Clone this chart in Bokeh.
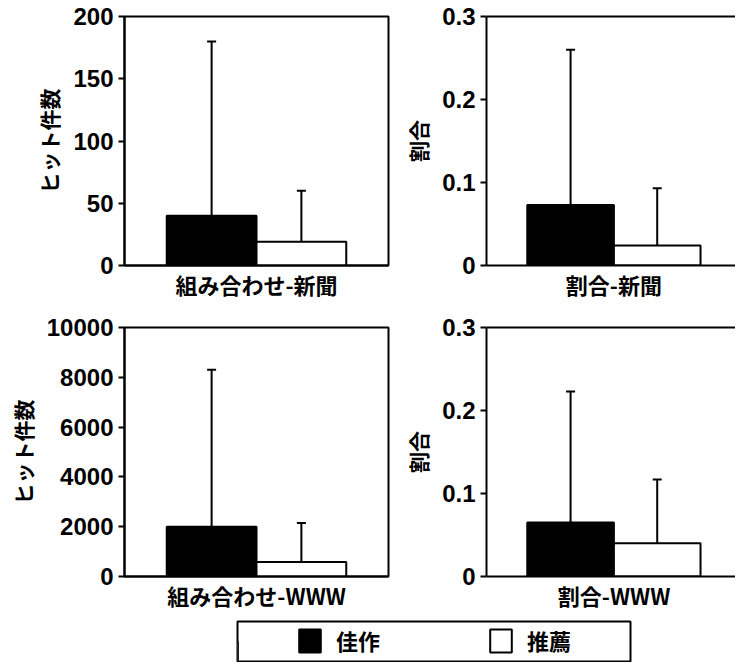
from bokeh.plotting import figure
from bokeh.models import (Range1d, FixedTicker, Whisker, TeeHead, ColumnDataSource,
                          LinearAxis, Legend, LegendItem)
from bokeh.layouts import column, row
from bokeh.embed import file_html
from bokeh.resources import INLINE

# ---------------- data ----------------
series = ["佳作", "推薦"]
colors = ["black", "white"]

categories = ["組み合わせ-新聞", "割合-新聞", "組み合わせ-WWW", "割合-WWW"]
y_titles = ["ヒット件数", "割合", "ヒット件数", "割合"]
y_max = [200, 0.3, 10000, 0.3]
y_ticks = [[0, 50, 100, 150, 200],
           [0, 0.1, 0.2, 0.3],
           [0, 2000, 4000, 6000, 8000, 10000],
           [0, 0.1, 0.2, 0.3]]

# mean values  [佳作, 推薦]
means = [[40, 19],
         [0.073, 0.024],
         [2000, 580],
         [0.065, 0.040]]
# standard deviations (upper error bar length)
sds = [[140, 41],
       [0.187, 0.069],
       [6300, 1570],
       [0.158, 0.077]]

group_center = 0.5
bar_width = 0.34
offsets = [-0.17, 0.17]

TICK_FONT = "Liberation Sans"
CJK_FONT = "Noto Sans CJK JP"


def make_panel(i, width, height, border_left, border_right, border_top, border_bottom,
               x_end, full_frame):
    p = figure(width=width, height=height, output_backend="svg", toolbar_location=None,
               x_range=Range1d(0, x_end), y_range=Range1d(0, y_max[i]),
               min_border_left=border_left, min_border_right=border_right,
               min_border_top=border_top, min_border_bottom=border_bottom)
    p.grid.visible = False
    p.background_fill_color = "white"
    p.border_fill_color = "white"

    xs = [group_center + o for o in offsets]
    src = ColumnDataSource(dict(x=xs, top=means[i],
                                upper=[m + s for m, s in zip(means[i], sds[i])],
                                fill=colors))
    p.vbar(x="x", top="top", width=bar_width, bottom=0, source=src,
           fill_color="fill", line_color="black", line_width=2)
    w = Whisker(base="x", lower="top", upper="upper", source=src,
                line_color="black", line_width=2,
                upper_head=TeeHead(size=9, line_width=2, line_color="black"),
                lower_head=None, level="overlay")
    p.add_layout(w)

    # y axis
    ya = p.left[0]
    ya.ticker = FixedTicker(ticks=y_ticks[i])
    ya.major_label_overrides = {0: "0"}
    ya.minor_tick_line_color = None
    ya.major_tick_in = 0
    ya.major_tick_out = 6
    ya.major_tick_line_width = 2
    ya.axis_line_width = 2
    ya.major_label_standoff = 5
    ya.major_label_text_font = TICK_FONT
    ya.major_label_text_font_style = "bold"
    ya.major_label_text_font_size = "24px"
    ya.major_label_text_color = "black"
    ya.axis_label = y_titles[i]
    ya.axis_label_text_font = CJK_FONT
    ya.axis_label_text_font_style = "bold"
    ya.axis_label_text_font_size = "21px"
    ya.axis_label_standoff = 6
    ya.axis_label_text_color = "black"

    # x axis (category label)
    xa = p.below[0]
    xa.ticker = FixedTicker(ticks=[group_center])
    xa.major_label_overrides = {group_center: categories[i]}
    xa.major_tick_line_color = None
    xa.minor_tick_line_color = None
    xa.major_tick_out = 0
    xa.major_tick_in = 0
    xa.axis_line_width = 2
    xa.major_label_standoff = 2
    xa.major_label_text_font = CJK_FONT
    xa.major_label_text_font_style = "bold"
    xa.major_label_text_font_size = "22px"
    xa.major_label_text_color = "black"

    if full_frame:
        p.outline_line_color = "black"
        p.outline_line_width = 2
        p.outline_line_alpha = 1
    else:
        p.outline_line_color = None
        top_axis = LinearAxis(ticker=FixedTicker(ticks=[]), axis_line_width=2,
                              axis_line_color="black", major_tick_line_color=None,
                              minor_tick_line_color=None, major_tick_out=0,
                              major_tick_in=0, major_label_standoff=0,
                              major_label_text_font_size="0px")
        p.add_layout(top_axis, "above")
    return p


LEFT_W = 400
RIGHT_W = 335
FRAME_W = 264
RIGHT_BORDER_L = 77
right_frame_w = RIGHT_W - RIGHT_BORDER_L

p_tl = make_panel(0, LEFT_W, 308, 124, LEFT_W - 124 - FRAME_W, 16, 43, 1.0, True)
p_tr = make_panel(1, RIGHT_W, 308, RIGHT_BORDER_L, 0, 16, 43, right_frame_w / FRAME_W, False)
p_bl = make_panel(2, LEFT_W, 305, 124, LEFT_W - 124 - FRAME_W, 19, 36, 1.0, True)
p_br = make_panel(3, RIGHT_W, 305, RIGHT_BORDER_L, 0, 19, 36, right_frame_w / FRAME_W, False)

# ---------------- legend ----------------
TOTAL_W = LEFT_W + RIGHT_W
p_leg = figure(width=TOTAL_W, height=49, output_backend="svg", toolbar_location=None,
               x_range=Range1d(0, 1), y_range=Range1d(0, 1),
               min_border_left=237, min_border_right=TOTAL_W - 237 - 393,
               min_border_top=8, min_border_bottom=1)
p_leg.axis.visible = False
p_leg.grid.visible = False
p_leg.outline_line_color = "black"
p_leg.outline_line_width = 2
p_leg.outline_line_alpha = 1
items = []
for name, c in zip(series, colors):
    # legend-only renderer, kept outside the visible range
    r = p_leg.vbar(x=[-1], top=[0.5], bottom=[0], width=0.1,
                   fill_color=c, line_color="black", line_width=2)
    items.append(LegendItem(label=name, renderers=[r]))
leg = Legend(items=items, orientation="horizontal", location=(59, 5),
             padding=0, spacing=11, margin=0,
             glyph_width=27, glyph_height=29, label_standoff=13, label_width=140,
             label_text_font=CJK_FONT, label_text_font_style="bold",
             label_text_font_size="22px", label_text_color="black",
             border_line_color=None, background_fill_alpha=0)
p_leg.add_layout(leg, "center")

layout = column(row(p_tl, p_tr), row(p_bl, p_br), p_leg)

open("out.html", "w").write(file_html(layout, INLINE))
